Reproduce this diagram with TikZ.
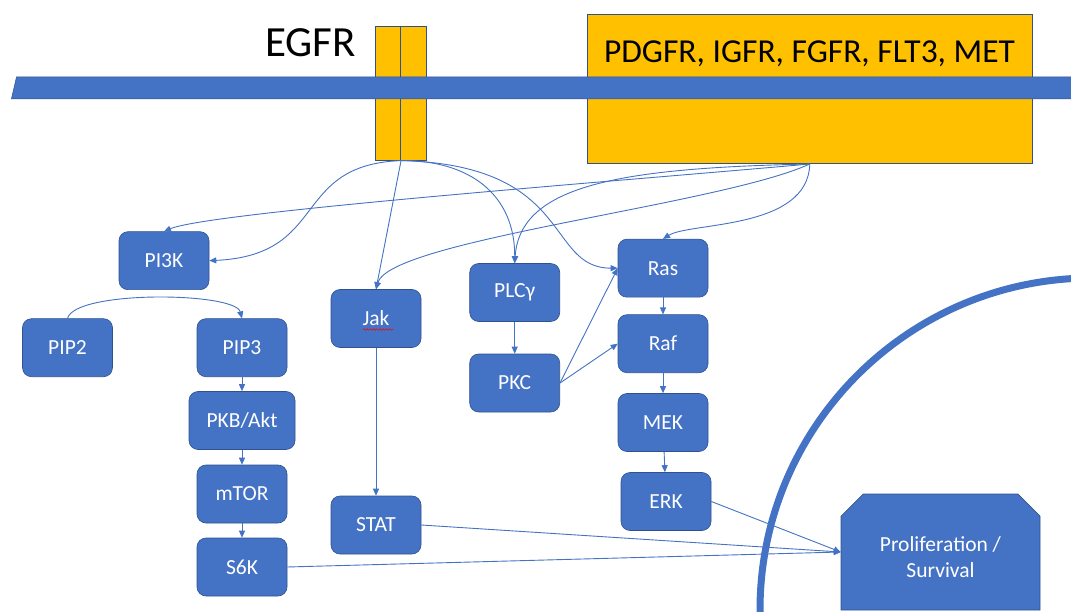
\documentclass[tikz,border=0pt]{standalone}
\usepackage{fontspec}
\setmainfont{Carlito}
\usepackage{tikz}
\usetikzlibrary{positioning,arrows.meta,shapes.misc,decorations.pathmorphing}

\definecolor{boxblue}{HTML}{4472C4}
\definecolor{boxline}{HTML}{2F528F}
\definecolor{gold}{HTML}{FFC000}

\begin{document}
\begin{tikzpicture}[x=1pt,y=-1pt,>={Triangle[length=7pt,width=6pt]}]
      \tikzstyle{protein}=[rectangle,rounded corners=9pt,fill=boxblue,draw=boxline,line width=.6pt,text=white,font=\fontsize{21.5}{25}\selectfont,minimum width=90pt,minimum height=58pt,inner sep=0pt]
      \tikzstyle{receptor}=[rectangle,fill=gold,draw=boxline,line width=.6pt,inner sep=0pt]
      \tikzstyle{outcome}=[chamfered rectangle,chamfered rectangle xsep=19pt,chamfered rectangle corners={north west,north east},fill=boxblue,draw=boxline,line width=.6pt,text=white,font=\fontsize{21.5}{25.5}\selectfont,align=center,minimum width=199pt,minimum height=116pt,inner sep=0pt]
      \tikzstyle{link}=[->,draw=boxblue,line width=.9pt]
      \useasboundingbox (0,0) rectangle (1071,612);

      % nucleus
      \begin{scope}
        \clip (0,0) rectangle (1071,612);
        \draw[boxblue,line width=7pt] (1092,610) circle (332pt);
      \end{scope}

      % receptors and membrane
      \node[receptor,minimum width=25.7pt,minimum height=134pt] (egfra) at (387.9,93.3) {};
      \node[receptor,minimum width=25.7pt,minimum height=134pt] (egfrb) at (413.6,93.3) {};
      \node[receptor,minimum width=444.4pt,minimum height=149pt] (pdgfr) at (809.8,89.2) {};
      \fill[boxblue,draw=boxline,line width=.5pt] (16.5,77) -- (1080,77) -- (1080,99) -- (11.4,99) -- cycle;
      \node[font=\fontsize{43}{50}\selectfont,anchor=base] (egfrlabel) at (310.5,57) {EGFR};
      \node[font=\fontsize{33.5}{40}\selectfont,anchor=base] (pdgfrlabel) at (809.5,62.7) {PDGFR, IGFR, FGFR, FLT3, MET};

      % proteins
      \node[protein] (pi3k) at (164,260.7) {PI3K};
      \node[protein] (pip2) at (67.5,347.7) {PIP2};
      \node[protein] (pip3) at (242,347.7) {PIP3};
      \node[protein] (pkb) [node distance=72.8pt, below of=pip3, minimum width=106pt] {PKB/Akt};
      \node[protein] (mtor) [node distance=73.5pt, below of=pkb] {mTOR};
      \node[protein] (s6k) [node distance=73pt, below of=mtor] {S6K};
      \node[protein] (jak) at (376,318.5) {Jak};
      \node[protein] (stat) [node distance=206.5pt, below of=jak] {STAT};
      \node[protein] (plc) at (514.7,292.5) {PLCγ};
      \node[protein] (pkc) [node distance=90.5pt, below of=plc] {PKC};
      \node[protein] (ras) at (663,268.2) {Ras};
      \node[protein] (raf) [node distance=75.5pt, below of=ras] {Raf};
      \node[protein] (mek) [node distance=78.8pt, below of=raf] {MEK};
      \node[protein] (erk) [node distance=79pt, below of=mek, xshift=3pt] {ERK};
      \node[outcome] (prolif) at (940.5,552) {\rule{0pt}{25pt}Proliferation /\\Survival};
      \draw[red,line width=.5pt,decorate,decoration={snake,amplitude=.8pt,segment length=3.2pt}] ([shift={(-13,11)}]jak.center) -- ([shift={(17,11)}]jak.center);

      \draw[link] (egfra.south east) .. controls (290,165) and (330,255) .. (pi3k.east);
      \draw[link] (egfra.south east) -- (jak.north);
      \draw[link] (egfra.south east) .. controls (470,160) and (515,195) .. (plc.north);
      \draw[link] (egfra.south east) .. controls (575,165) and (545,268) .. (ras.west);
      \draw[link] (pdgfr.south) .. controls (620,181) and (210,212) .. (pi3k.north);
      \draw[link] (pdgfr.south) .. controls (720,205) and (390,240) .. (jak.north);
      \draw[link] (pdgfr.south) .. controls (620,168) and (520,185) .. (plc.north);
      \draw[link] (pdgfr.south) .. controls (808,230) and (690,222) .. (ras.north);
      \draw[link] (pip2.north) .. controls (75,290) and (235,292) .. (pip3.north);
      \draw[link] (pip3) -- (pkb);
      \draw[link] (pkb) -- (mtor);
      \draw[link] (mtor) -- (s6k);
      \draw[link] (jak) -- (stat);
      \draw[link] (plc) -- (pkc);
      \draw[link] (pkc.east) -- (ras.west);
      \draw[link] (pkc.east) -- (raf.west);
      \draw[link] (ras) -- (raf);
      \draw[link] (raf) -- (mek);
      \draw[link] (mek) -- (erk);
      \draw[link] (erk.east) -- (prolif.west);
      \draw[link] (stat.east) -- (prolif.west);
      \draw[link] (s6k.east) -- (prolif.west);
\end{tikzpicture}
\end{document}
